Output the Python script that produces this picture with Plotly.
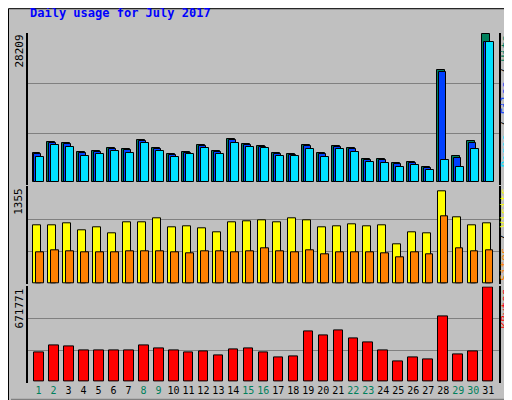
import plotly.graph_objects as go

days = list(range(1, 32))
hits = [5642,7710,7522,5830,6018,6582,6394,8087,6582,5454,5830,7146,6018,8275,7334,6958,
        5642,5454,7146,5642,6958,6582,4513,4513,3761,3949,3009,21439,5078,7898,28209]
files = [5360,7430,7240,5550,5740,6300,6110,7800,6300,5170,5550,6860,5740,7990,7050,6680,
         5360,5170,6860,5360,6680,6300,4230,4230,3480,3670,2730,21062,4700,7522,26705]
pages = [4890,7146,6770,5078,5454,6018,5642,7522,6018,4890,5454,6582,5454,7522,6770,6582,
         5078,5078,6394,4890,6394,5830,3949,3761,3009,3385,2445,4325,3009,6394,26705]
visits = [823,823,852,753,795,710,866,866,922,795,809,781,725,866,880,894,
          866,922,894,795,809,837,809,823,555,725,710,1303,936,823,852]
sites = [442,471,456,442,442,442,456,456,456,442,428,456,456,442,456,499,
         456,442,471,414,442,442,442,428,358,442,400,950,499,456,471]
kbytes = [205800,262500,255400,220000,220000,227000,227000,262500,241200,220000,205800,212900,
          184500,234100,241200,205800,170300,177400,361900,333500,369000,312200,283800,220000,
          141900,170300,156100,468300,191600,212900,671771]
weekend = {1,2,8,9,15,16,22,23,29,30}
max_hits, max_visits, max_kb = 28209, 1355, 671771

FONT = "DejaVu Sans Mono"
fig = go.Figure()
line = dict(color="black", width=1)

def bar(y, color, offset, width, yaxis):
    fig.add_trace(go.Bar(x=days, y=y, marker=dict(color=color, line=line), offset=offset,
                         width=width, yaxis=yaxis, hoverinfo="skip", showlegend=False))

bar(hits, "#00805c", -0.40, 0.53, "y")
bar(files, "#0040ff", -0.30, 0.50, "y")
bar(pages, "#00e0ff", -0.14, 0.51, "y")
bar(visits, "#ffff00", -0.36, 0.53, "y2")
bar(sites, "#ff8000", -0.14, 0.49, "y2")
bar(kbytes, "#ff0000", -0.32, 0.66, "y3")

ticktext = [f'<span style="color:{"#00805c" if d in weekend else "black"}">{d}</span>' for d in days]
ax = dict(showline=True, linecolor="black", linewidth=2, mirror=True, zeroline=False,
          showticklabels=False, gridcolor="#808080", gridwidth=1, ticks="")
fig.update_layout(
    width=512, height=400, margin=dict(l=20, r=21, t=25, b=22),
    paper_bgcolor="#c0c0c0", plot_bgcolor="#c0c0c0", barmode="overlay", bargap=0,
    font=dict(family=FONT, size=11, color="black"),
    xaxis=dict(range=[0.3, 31.72], tickvals=days, ticktext=ticktext, showline=False,
               showgrid=False, zeroline=False, ticks="", tickangle=0,
               tickfont=dict(size=10), anchor="y3"),
    yaxis=dict(domain=[0.567, 1.0], range=[-400, 28450],
               tickvals=[max_hits/3, 2*max_hits/3], **ax),
    yaxis2=dict(domain=[0.282, 0.562], range=[-20, 1375],
                tickvals=[max_visits/3, 2*max_visits/3], **ax),
    yaxis3=dict(domain=[0.0, 0.276], range=[-8000, 678000],
                tickvals=[max_kb/3, 2*max_kb/3], **ax),
)
# frame / shadow
fig.add_shape(type="rect", xref="paper", yref="paper", x0=-19.5/471, x1=1+20/471, y0=-21/353, y1=1+24.5/353,
              line=dict(color="black", width=1), fillcolor="rgba(0,0,0,0)", layer="below")
fig.add_shape(type="rect", xref="paper", yref="paper", x0=1+15/471, x1=1+19/471, y0=-18/353, y1=1+21/353,
              line=dict(width=0), fillcolor="#808080", layer="below")
fig.add_shape(type="rect", xref="paper", yref="paper", x0=-17/471, x1=1+19/471, y0=-20/353, y1=-16/353,
              line=dict(width=0), fillcolor="#808080", layer="below")

fig.add_annotation(text="<b>Daily usage for July 2017</b>", xref="paper", yref="paper",
                   x=0, y=1+20/353, xanchor="left", yanchor="middle", showarrow=False,
                   font=dict(family=FONT, size=12, color="#0000ff"))
for lbl, ytop in [(str(max_hits), 1.0), (str(max_visits), 0.562), (str(max_kb), 0.276)]:
    fig.add_annotation(text=lbl, xref="paper", yref="paper", x=-9/471, y=ytop, textangle=-90,
                       xanchor="center", yanchor="top", showarrow=False, font=dict(size=11))
rl = [('<span style="color:#00e0ff">Pages</span> / <span style="color:#0040ff">Files</span> / '
       '<span style="color:#00805c">Hits</span>', 1.0),
      ('<span style="color:#ff8000">Sites</span> / <span style="color:#ffff00">Visits</span>', 0.562),
      ('<span style="color:#ff0000">KBytes</span>', 0.276)]
for txt, ytop in rl:
    fig.add_annotation(text=txt, xref="paper", yref="paper", x=1+6/471, y=ytop, textangle=-90,
                       xanchor="center", yanchor="top", showarrow=False, font=dict(size=11))

fig.write_html("out.html")
